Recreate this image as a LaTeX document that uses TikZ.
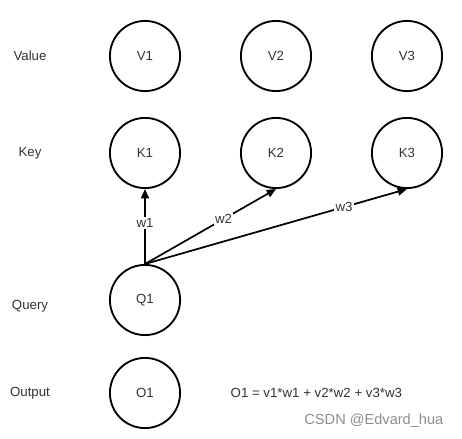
\documentclass[tikz,border=0pt]{standalone}
\usepackage{fontspec}
\setmainfont{Liberation Sans}
\usetikzlibrary{arrows.meta}
\begin{document}
\begin{tikzpicture}[x=0.0265cm, y=-0.0265cm, font=\fontsize{10}{12}\selectfont, text=black!80,
  unit/.style={draw, circle, line width=1.4pt, minimum size=1.86cm, inner sep=0pt},
  rowlabel/.style={anchor=center},
  wlink/.style={-{Triangle[length=7pt, width=6pt]}, line width=1.3pt},
  wlabel/.style={fill=white, inner sep=1pt}]
  \useasboundingbox (0,0) rectangle (462,439);
  % row labels
  \node[rowlabel] (lv) at (30,56) {Value};
  \node[rowlabel] (lk) at (30,153) {Key};
  \node[rowlabel] (lq) at (30,306) {Query};
  \node[rowlabel] (lo) at (30,393) {Output};
  % value and key units
  \node[unit] (v1) at (145,56) {V1};
  \node[unit] (v2) at (276,56) {V2};
  \node[unit] (v3) at (407,56) {V3};
  \node[unit] (k1) at (145,153) {K1};
  \node[unit] (k2) at (276,153) {K2};
  \node[unit] (k3) at (407,153) {K3};
  % query and output
  \node[unit] (q1) at (145,300) {Q1};
  \node[unit] (o1) at (145,393) {O1};
  \draw[wlink] (q1.north) -- node[wlabel, pos=0.55] {w1} (k1.south);
  \draw[wlink] (q1.north) -- node[wlabel, pos=0.6] {w2} (k2.south);
  \draw[wlink] (q1.north) -- node[wlabel, pos=0.76] {w3} (k3.south);
  \node[anchor=west] (eq) at (226,393) {O1 = v1*w1 + v2*w2 + v3*w3};
  \node[anchor=east, text=black!45, font=\fontsize{11}{13}\selectfont] (mark) at (448,421) {CSDN @Edvard\_hua};
\end{tikzpicture}
\end{document}
